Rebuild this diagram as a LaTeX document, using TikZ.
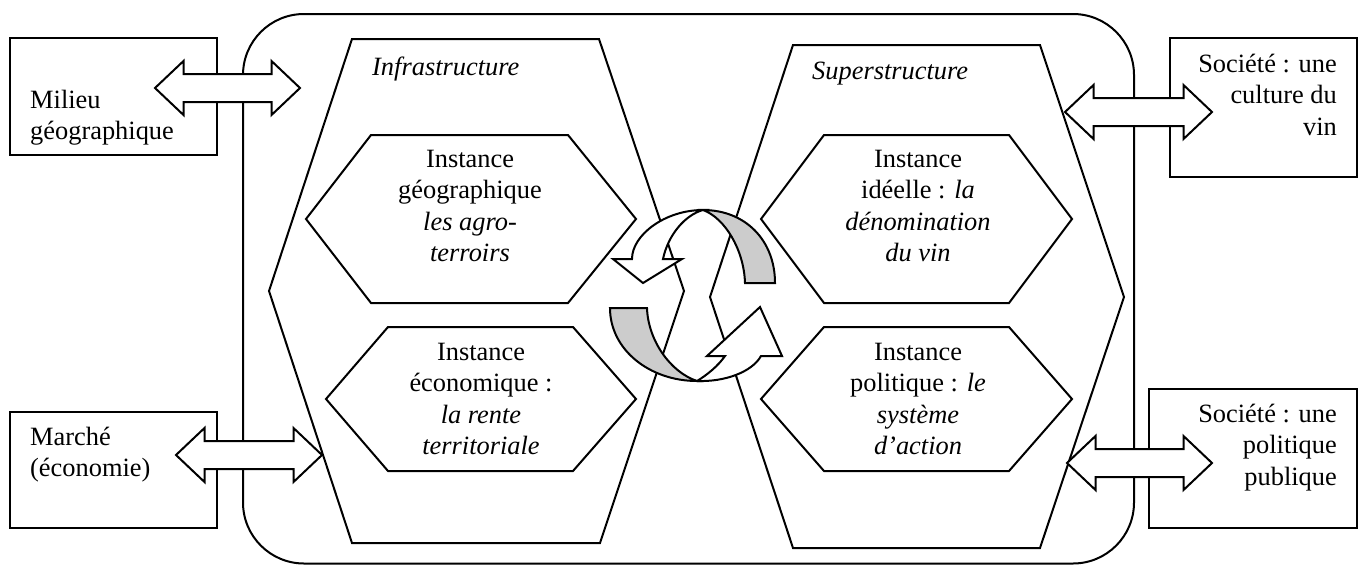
\documentclass[tikz,border=0pt]{standalone}
\usepackage{fontspec}
\setmainfont{Liberation Serif}
\definecolor{gfill}{RGB}{204,204,204}
\newcommand{\fl}{\rule{0pt}{20pt}}
\newcommand{\DArrow}[4]{% name, left tip x, right tip x, y
  \draw[dblarrow] (#2,#4) coordinate (#1-l) -- ({#2+28.5},{#4-27}) -- ({#2+28.5},{#4-14}) -- ({#3-28.5},{#4-14})
    -- ({#3-28.5},{#4-27}) -- (#3,#4) coordinate (#1-r) -- ({#3-28.5},{#4+27}) -- ({#3-28.5},{#4+14})
    -- ({#2+28.5},{#4+14}) -- ({#2+28.5},{#4+27}) -- cycle;}
\tikzset{
  lw/.style={line width=2pt},
  txt/.style={inner sep=0pt, font=\fontsize{26.4}{31.5}\selectfont},
  box/.style={draw, lw, inner sep=0pt},
  hexa/.style={draw, lw},
  dblarrow/.style={draw, fill=white, lw},
  ribbonw/.style={draw, fill=white, lw, line join=miter},
  ribbong/.style={draw, fill=gfill, lw, line join=miter}
}
\begin{document}
\begin{tikzpicture}[x=1pt,y=-1pt]
\useasboundingbox (0,0) rectangle (1360,565);
% big rounded frame
\draw[lw, rounded corners=61pt] (243,14) rectangle (1134,563.5);
% big hexagons
\draw[hexa] (352,39) -- (599,39) -- (684,291) -- (600,543) -- (352,543) -- (269,291) -- cycle;
\draw[hexa] (793,45) -- (1040,45) -- (1124,297) -- (1040,548) -- (793,548) -- (710,297) -- cycle;
% inner hexagons
\draw[hexa] (371,135) -- (568,135) -- (636,219) -- (568,303) -- (371,303) -- (306,219) -- cycle;
\draw[hexa] (388,327) -- (573,327) -- (636,399) -- (573,471) -- (388,471) -- (326,399) -- cycle;
\draw[hexa] (824,135) -- (1009,135) -- (1072,219) -- (1009,303) -- (824,303) -- (761,219) -- cycle;
\draw[hexa] (824,327) -- (1009,327) -- (1072,399) -- (1009,471) -- (824,471) -- (761,399) -- cycle;
% titles
\node[txt, anchor=base west] (infra) at (372,75) {\textit{Infrastructure}};
\node[txt, anchor=base west] (super) at (812,79) {\textit{Superstructure}};
% instance texts
\node[txt, anchor=north, align=center] (geo) at (470,147) {\fl Instance\\géographique\\\textit{les agro-}\\\textit{terroirs}};
\node[txt, anchor=north, align=center] (eco) at (481,340) {\fl Instance\\économique :\\\textit{la rente}\\\textit{territoriale}};
\node[txt, anchor=north, align=center] (ideel) at (918,147) {\fl Instance\\idéelle : \textit{la}\\\textit{dénomination}\\\textit{du vin}};
\node[txt, anchor=north, align=center] (poli) at (918,340) {\fl Instance\\politique : \textit{le}\\\textit{système}\\\textit{d’action}};
% outer boxes
\node[box, minimum width=207pt, minimum height=117pt] (milieu) at (113.5,96.5) {};
\node[box, minimum width=207pt, minimum height=116pt] (marche) at (113.5,470) {};
\node[box, minimum width=187pt, minimum height=139pt] (culture) at (1263.5,107.5) {};
\node[box, minimum width=208pt, minimum height=139pt] (publique) at (1253,458.5) {};
\node[txt, anchor=north west, align=left] (milieuT) at (30,88) {\fl Milieu\\géographique};
\node[txt, anchor=north west, align=left] (marcheT) at (30,425) {\fl Marché\\(économie)};
\node[txt, anchor=north east, align=right] (cultureT) at (1337,52) {\fl Société : une\\culture du\\vin};
\node[txt, anchor=north east, align=right] (publiqueT) at (1337,402) {\fl Société : une\\politique\\publique};
% double arrows
\DArrow{a1}{155}{300}{88}
\DArrow{a2}{176}{322}{455}
\DArrow{a3}{1065}{1212}{112}
\DArrow{a4}{1067}{1212}{463}
% circular arrows
\draw[ribbong] (703,210) .. controls (745,210) and (775,240) .. (775,283) -- (745,283) .. controls (744,250) and (725,218) .. (703,210) -- cycle;
\draw[ribbonw] (703,210) .. controls (665,210) and (632,235) .. (632,259) -- (613,259) -- (643,283) -- (682,259) -- (663,259) .. controls (668,235) and (685,215) .. (703,210) -- cycle;
\draw[ribbong] (610,308) -- (647,308) .. controls (648,340) and (670,372) .. (697,381) .. controls (650,381) and (610,350) .. (610,308) -- cycle;
\draw[ribbonw] (697,381) .. controls (725,382) and (752,372) .. (761,356) -- (782,356) -- (760,307) -- (707,356) -- (725,356) .. controls (718,366) and (707,375) .. (697,381) -- cycle;
\end{tikzpicture}
\end{document}
